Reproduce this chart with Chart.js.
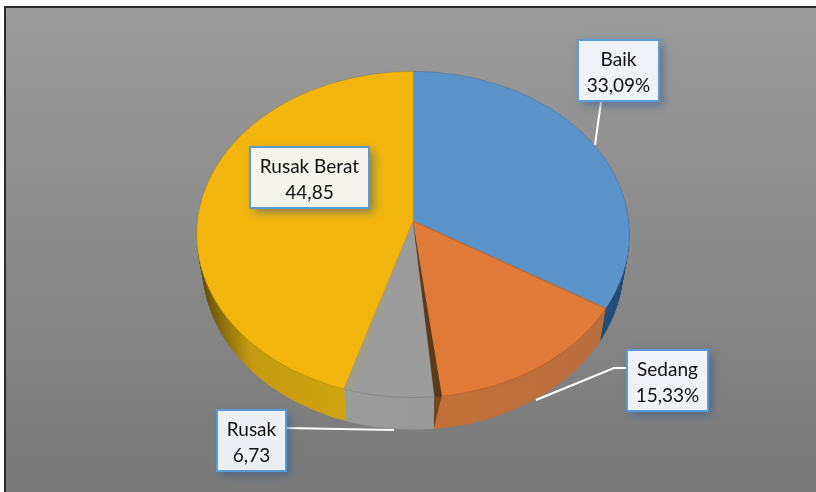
<!DOCTYPE html>
<html>
<head>
<meta charset="utf-8">
<title>Kondisi</title>
<style>
  html, body { margin: 0; padding: 0; background: #fff; overflow: hidden; }
  #wrap { position: relative; width: 816px; height: 492px; }
  #frame {
    position: absolute; left: 4px; top: 6px; right: 0; bottom: 0;
    border-left: 2px solid #2b2b2b; border-top: 2px solid #2b2b2b;
    background: linear-gradient(#9b9b9b, #797979);
  }
  canvas { position: absolute; left: 0; top: 0; }
</style>
<script src="https://cdn.jsdelivr.net/npm/chart.js@4/dist/chart.umd.min.js"></script>
</head>
<body>
<div id="wrap">
  <div id="frame"></div>
  <canvas id="myChart" width="816" height="492"></canvas>
</div>
<script>
const categories = ['Baik', 'Sedang', 'Rusak', 'Rusak Berat'];
const values = [33.09, 15.33, 6.73, 44.85];
const valueLabels = ['33,09%', '15,33%', '6,73', '44,85'];

const topColors = ['#5b94cb', '#e07a38', '#9c9c9c', '#f1b50d'];
const edgeColors = ['#4b82b8', '#c9672c', '#8b8b8b', '#d8a312'];
// side wall colours, left to right
const wallColors = [
  ['#3a72a8', '#3a72a8', '#224c74'],
  ['#d07034', '#d07034', '#b86e3e'],
  ['#a0a0a0', '#9c9c9c', '#969696'],
  ['#5f4a08', '#c49a10', '#f5c010'],
];

// callout boxes: x, y, w, h
const boxes = [
  [578, 40, 81, 61],
  [627, 350, 81, 61],
  [217, 410, 69, 61],
  [250, 147, 119, 61],
];
const boxFills = ['#eff2f6', '#eff2f6', '#ecf0f5', '#f5f4ec'];
const leaders = [
  [[601, 102], [595, 145]],
  [[626, 368], [614, 368], [536, 400]],
  [[286, 428], [394, 430]],
  [],
];

const depth = 32;
// far half of the slices is flatter than the near half (fake perspective)
const upperTilt = 150 / 217;
const lowerTilt = 177 / 217;
// the outline is one ellipse, its centre sits below the slices' common point
const outlineRy = 163.5 / 217;
const outlineDrop = 13.5 / 217;
const overscan = 1.15;

function outlinePath(ctx, arc, cy) {
  ctx.beginPath();
  ctx.ellipse(arc.x, cy + outlineDrop * arc.outerRadius, arc.outerRadius, outlineRy * arc.outerRadius, 0, 0, Math.PI * 2);
}

function tilted(chart, fn) {
  const ctx = chart.ctx;
  const arc = chart.getDatasetMeta(0).data[0];
  const cy = Math.round(arc.y);
  ctx.save();
  outlinePath(ctx, arc, cy);
  ctx.clip();
  [[0, cy, upperTilt], [cy, chart.height - cy, lowerTilt]].forEach(([y, h, tilt]) => {
    ctx.save();
    ctx.beginPath();
    ctx.rect(0, y, chart.width, h);
    ctx.clip();
    ctx.translate(arc.x, cy);
    ctx.scale(overscan, overscan * tilt);
    ctx.translate(-arc.x, -cy);
    fn(ctx);
    ctx.restore();
  });
  ctx.restore();
}

function drawPiece(ctx, arc, over, from, to) {
  const keep = { options: arc.options, startAngle: arc.startAngle, endAngle: arc.endAngle, circumference: arc.circumference };
  arc.options = { ...keep.options, ...over };
  if (from !== undefined) {
    arc.startAngle = from;
    arc.endAngle = to;
    arc.circumference = to - from;
  }
  arc.draw(ctx);
  Object.assign(arc, keep);
}

const deg = Math.PI / 180;

const pie3d = {
  id: 'pie3d',
  beforeDatasetsDraw(chart) {
    const ctx = chart.ctx;
    const arcs = chart.getDatasetMeta(0).data;
    const { x, outerRadius } = arcs[0];
    const walls = wallColors.map((c) => {
      // gradient is read in the overscanned space
      const r = outerRadius / overscan;
      const g = ctx.createLinearGradient(x - r, 0, x + r, 0);
      g.addColorStop(0, c[0]);
      g.addColorStop(0.12, c[1]);
      g.addColorStop(1, c[2]);
      return g;
    });
    const sedang = arcs[1];

    // side wall: stacked copies, each a bit narrower going down
    for (let d = depth; d >= 1; d -= 1) {
      const shrink = 1 - 0.028 * (d / depth);
      ctx.save();
      ctx.translate(x, d);
      ctx.scale(shrink, 1);
      ctx.translate(-x, 0);
      tilted(chart, (c) => {
        arcs.forEach((arc, i) => {
          drawPiece(c, arc, { backgroundColor: walls[i], borderWidth: 0 });
        });
        drawPiece(c, sedang, { backgroundColor: '#5c3a1c', borderWidth: 0 },
          sedang.endAngle - 2 * deg * (1 - d / depth), sedang.endAngle);
      });
      ctx.restore();
    }

    // top face
    tilted(chart, (c) => {
      arcs.forEach((arc) => arc.draw(c));
      // cut faces along the slice boundaries
      const rusak = arcs[2];
      drawPiece(c, sedang, { backgroundColor: '#5c3a1c', borderWidth: 0 }, sedang.endAngle - 2 * deg, sedang.endAngle);
      drawPiece(c, rusak, { backgroundColor: '#a09d90', borderWidth: 0 }, rusak.endAngle - 2.5 * deg, rusak.endAngle);
    });
    // rim line
    outlinePath(ctx, arcs[0], Math.round(arcs[0].y));
    ctx.strokeStyle = 'rgba(0,0,0,0.12)';
    ctx.lineWidth = 1;
    ctx.stroke();
    return false;
  },
  afterDraw(chart) {
    const ctx = chart.ctx;
    ctx.save();
    ctx.strokeStyle = '#ffffff';
    ctx.lineWidth = 2;
    leaders.forEach((pts) => {
      if (!pts.length) return;
      ctx.beginPath();
      pts.forEach((p, i) => (i ? ctx.lineTo(p[0], p[1]) : ctx.moveTo(p[0], p[1])));
      ctx.stroke();
    });
    boxes.forEach((b, i) => {
      ctx.save();
      ctx.shadowColor = 'rgba(50,90,140,0.6)';
      ctx.shadowBlur = 9;
      ctx.shadowOffsetX = 4;
      ctx.shadowOffsetY = 4;
      ctx.fillStyle = boxFills[i];
      ctx.fillRect(b[0], b[1], b[2], b[3]);
      ctx.restore();
      ctx.strokeStyle = '#5b9bd5';
      ctx.lineWidth = 2;
      ctx.strokeRect(b[0], b[1], b[2], b[3]);
      ctx.fillStyle = '#111111';
      ctx.font = '19px Lato';
      ctx.textAlign = 'center';
      ctx.fillText(categories[i], b[0] + b[2] / 2, b[1] + 26);
      ctx.fillText(valueLabels[i], b[0] + b[2] / 2, b[1] + 52);
    });
    ctx.restore();
  },
};

new Chart(document.getElementById('myChart'), {
  type: 'pie',
  data: {
    labels: categories,
    datasets: [{
      data: values,
      backgroundColor: topColors,
      borderColor: edgeColors,
      borderWidth: 1,
    }],
  },
  options: {
    responsive: false,
    animation: false,
    layout: { padding: { left: 196, right: 186, top: 4, bottom: 54 } },
    plugins: { legend: { display: false }, tooltip: { enabled: false } },
  },
  plugins: [pie3d],
});
</script>
</body>
</html>
